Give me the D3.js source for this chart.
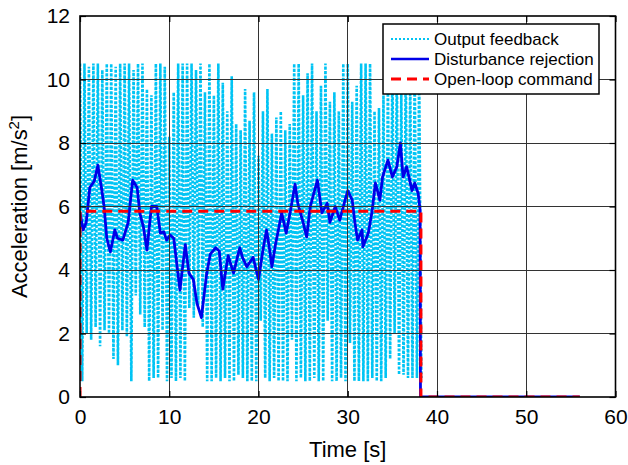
<!DOCTYPE html>
<html>
<head>
<meta charset="utf-8">
<script src="https://cdn.jsdelivr.net/npm/d3@7"></script>
<style>
  html, body { margin: 0; padding: 0; background: #fff; }
  svg { display: block; font-family: "Liberation Sans", Arial, sans-serif; }
</style>
</head>
<body>
<svg id="chart" width="628" height="465"></svg>
<script>
// ---------------- data ----------------
const xTicks = [0, 10, 20, 30, 40, 50, 60];
const yTicks = [0, 2, 4, 6, 8, 10, 12];

// Output feedback: one oscillation per step (peak then trough)
const ofStep = 0.5;
const ofPeaks = [10.5,10.5,10.4,10.5,10.5,10.3,10.5,10.5,10.4,10.5,
                 10.5,10.5,10.3,10.5,10.5,9.7,9.5,10.5,10.5,10.4,
                 8.2,9.6,10.5,10.5,10.5,10.5,10.3,10.5,9.6,10.5,
                 9.5,10.5,9.9,9.0,10.1,8.6,8.4,9.7,8.7,9.6,
                 7.6,9.0,9.7,8.3,8.8,9.0,8.4,8.6,10.5,10.5,
                 9.5,10.2,10.5,9.0,9.8,10.5,9.3,9.6,9.0,10.5,
                 10.5,9.3,9.8,10.5,10.5,10.5,9.0,9.1,9.5,10.0,
                 10.5,10.3,9.6,10.5,10.1,10.5,10.4];
const ofTroughs = [0.5,2.0,1.8,2.2,1.6,2.1,2.0,1.2,1.0,2.1,
                   1.9,0.5,3.2,2.6,2.2,0.5,0.6,0.6,2.1,0.5,
                   0.6,0.5,0.6,0.5,2.8,2.5,2.9,2.2,0.5,0.5,
                   0.6,0.5,0.6,0.5,0.5,0.7,0.6,0.5,0.5,0.5,
                   2.4,0.6,0.5,0.6,0.5,0.5,0.5,1.8,0.5,0.6,
                   0.5,0.5,0.6,0.5,0.5,2.4,0.5,0.5,0.6,0.5,
                   1.7,0.5,0.5,0.5,0.5,0.6,0.5,0.5,0.6,1.2,
                   2.0,0.7,0.7,0.6,0.6,0.6,0.6];

// Disturbance rejection
const drTime = [0,0.35,0.7,1.1,1.6,2.0,2.4,2.7,3.0,3.4,3.9,4.2,4.8,5.4,5.9,6.4,6.7,7.1,7.5,8.0,
                8.6,9.0,9.4,9.7,10.1,10.5,10.8,11.2,11.5,11.8,12.2,12.7,13.1,13.6,14.2,14.6,15.2,15.6,16.0,16.6,
                17.2,17.9,18.2,18.7,19.4,20.0,20.5,20.9,21.2,21.5,21.9,22.3,22.6,23.1,23.6,24.1,24.4,25.0,25.4,25.8,
                26.6,27.1,27.7,28.0,28.6,29.1,29.7,30.0,30.5,30.8,31.1,31.6,31.7,32.3,32.7,33.1,33.6,33.9,34.5,35.0,
                35.5,35.9,36.2,36.6,37.2,37.5,37.9,38.1,38.15,56];
const drValue = [5.8,5.26,5.5,6.6,6.8,7.3,6.6,6.0,5.0,4.57,5.26,5.0,4.94,5.5,6.83,6.6,5.8,5.36,4.63,6.0,
                 6.0,5.16,5.2,4.94,5.1,5.0,4.3,3.37,4.1,4.8,3.9,3.7,2.96,2.5,3.9,4.5,4.7,4.6,3.4,4.45,
                 3.9,4.7,4.4,4.1,4.4,3.7,4.63,5.26,4.73,4.1,4.8,5.36,5.8,5.16,5.9,6.7,6.1,5.5,5.04,6.0,
                 6.83,5.8,6.1,5.5,6.0,5.57,6.2,6.5,6.2,5.5,4.94,5.26,4.73,5.16,5.8,6.74,6.2,6.93,7.46,6.93,
                 7.25,8.0,6.93,7.25,6.5,6.74,6.4,5.9,0,0];

// Open-loop command
const olTime = [0, 0, 38.2, 38.2, 56];
const olValue = [0, 5.85, 5.85, 0, 0];

const legendLabels = ["Output feedback", "Disturbance rejection", "Open-loop command"];
const colors = { of: "#00c4f4", dr: "#0000e8", ol: "#ff0000" };

// ---------------- layout ----------------
const svg = d3.select("#chart");
const L = 80, R = 615.5, T = 16, B = 397;
const x = d3.scaleLinear().domain([0, 60]).range([L, R]);
const y = d3.scaleLinear().domain([0, 12]).range([B, T]);

svg.append("defs").append("clipPath").attr("id", "clip")
  .append("rect").attr("x", L).attr("y", T).attr("width", R - L).attr("height", B - T);

const line = d3.line().x(d => x(d.t)).y(d => y(d.v));
const plot = svg.append("g").attr("clip-path", "url(#clip)");

// output feedback points
const ofPts = [];
ofPeaks.forEach((p, i) => {
  ofPts.push({ t: i * ofStep, v: p });
  ofPts.push({ t: i * ofStep + ofStep / 2, v: ofTroughs[i] });
});
plot.append("path").attr("d", line(ofPts))
  .attr("fill", "none").attr("stroke", colors.of).attr("stroke-width", 2.6)
  .attr("stroke-dasharray", "3,1.5");

// grid
const grid = svg.append("g").attr("shape-rendering", "crispEdges");
xTicks.slice(1, -1).forEach(t => grid.append("line")
  .attr("x1", x(t)).attr("x2", x(t)).attr("y1", T).attr("y2", B)
  .attr("stroke", "#333").attr("stroke-width", 1));
yTicks.slice(1, -1).forEach(t => grid.append("line")
  .attr("x1", L).attr("x2", R).attr("y1", y(t)).attr("y2", y(t))
  .attr("stroke", "#333").attr("stroke-width", 1));

const drPts = drTime.map((t, i) => ({ t, v: drValue[i] }));
plot.append("path").attr("d", line(drPts))
  .attr("fill", "none").attr("stroke", colors.dr).attr("stroke-width", 2.8)
  .attr("stroke-linejoin", "round");

const olPts = olTime.map((t, i) => ({ t, v: olValue[i] }));
plot.append("path").attr("d", line(olPts))
  .attr("fill", "none").attr("stroke", colors.ol).attr("stroke-width", 3)
  .attr("stroke-dasharray", "10,6");

// axes
const axB = d3.axisBottom(x).tickValues(xTicks).tickSize(-6).tickPadding(12);
const axL = d3.axisLeft(y).tickValues(yTicks).tickSize(-6).tickPadding(10);
const axT = d3.axisTop(x).tickValues(xTicks).tickSize(-6).tickFormat("");
const axR = d3.axisRight(y).tickValues(yTicks).tickSize(-6).tickFormat("");

function style(g) {
  g.select(".domain").remove();
  g.selectAll(".tick line").attr("stroke", "#000").attr("stroke-width", 1.2);
  g.selectAll(".tick text").attr("fill", "#000").attr("font-size", 21)
    .attr("font-family", "'Liberation Sans', Arial, sans-serif");
}
svg.append("g").attr("transform", `translate(0,${B})`).call(axB).call(style);
svg.append("g").attr("transform", `translate(${L},0)`).call(axL).call(style);
svg.append("g").attr("transform", `translate(0,${T})`).call(axT).call(style);
svg.append("g").attr("transform", `translate(${R},0)`).call(axR).call(style);

svg.append("rect").attr("x", L).attr("y", T).attr("width", R - L).attr("height", B - T)
  .attr("fill", "none").attr("stroke", "#000").attr("stroke-width", 1.6);

// axis titles
svg.append("text").attr("x", (L + R) / 2).attr("y", 457).attr("text-anchor", "middle")
  .attr("font-size", 22).text("Time [s]");
const yt = svg.append("text").attr("transform", `translate(26.5,${(T + B) / 2}) rotate(-90)`)
  .attr("text-anchor", "middle").attr("font-size", 22);
yt.append("tspan").text("Acceleration [m/s");
yt.append("tspan").attr("font-size", 15).attr("dy", -8).text("2");
yt.append("tspan").attr("dy", 8).text("]");

// legend
const lg = svg.append("g");
lg.append("rect").attr("x", 383).attr("y", 24).attr("width", 216).attr("height", 70)
  .attr("fill", "#fff").attr("stroke", "#000").attr("stroke-width", 1.5);
const styles = [
  { c: colors.of, w: 2, d: "2,2" },
  { c: colors.dr, w: 2.5, d: null },
  { c: colors.ol, w: 3, d: "10,6" }
];
legendLabels.forEach((lab, i) => {
  const cy = 39 + i * 20;
  lg.append("line").attr("x1", 391).attr("x2", 429).attr("y1", cy).attr("y2", cy)
    .attr("stroke", styles[i].c).attr("stroke-width", styles[i].w)
    .attr("stroke-dasharray", styles[i].d);
  lg.append("text").attr("x", 434).attr("y", cy + 6).attr("font-size", 17).text(lab);
});
</script>
</body>
</html>
